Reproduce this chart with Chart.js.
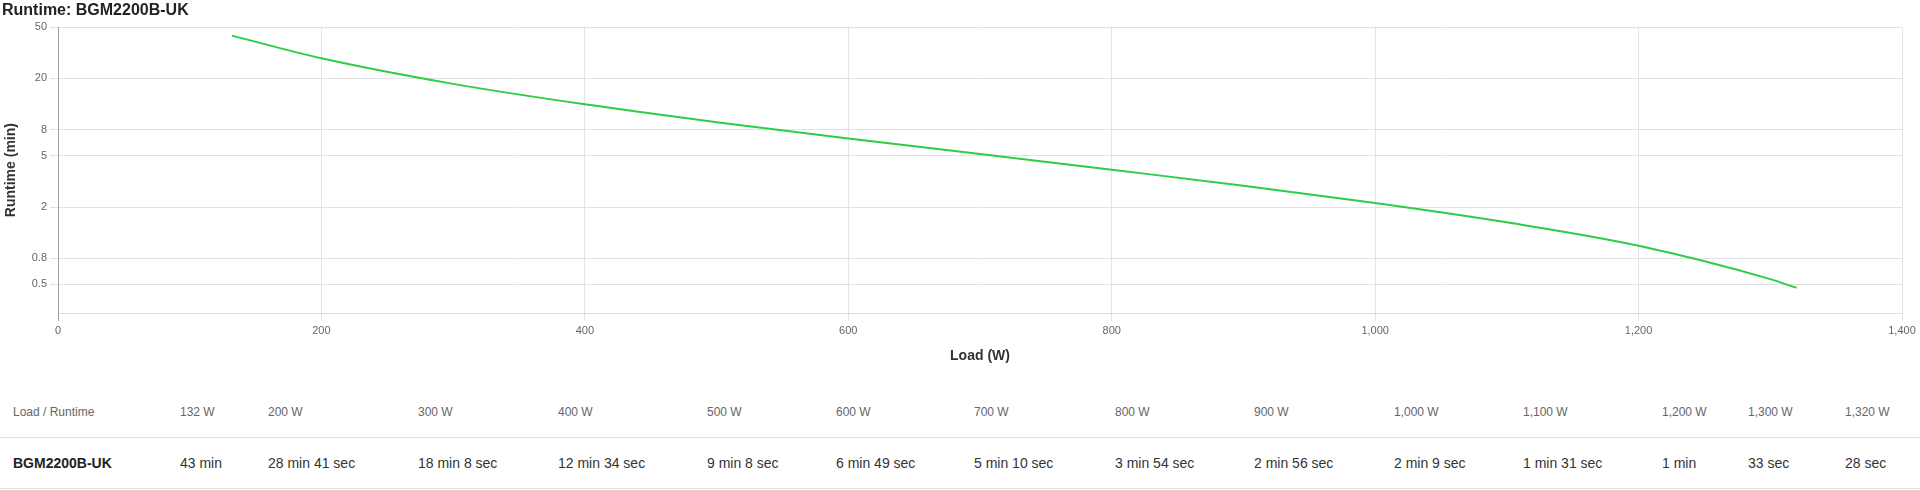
<!DOCTYPE html>
<html>
<head>
<meta charset="utf-8">
<script src="https://cdn.jsdelivr.net/npm/chart.js@4/dist/chart.umd.min.js"></script>
<style>
  html, body { margin: 0; padding: 0; background: #fff; width: 1920px; height: 490px; overflow: hidden; }
  body { position: relative; font-family: "Liberation Sans", Arial, sans-serif; }
  #chart { position: absolute; left: 0; top: 0; }
  #tbl { position: absolute; left: 0; top: 387px; border-collapse: collapse; table-layout: fixed; }
  #tbl td { padding: 0 0 0 13px; height: 50px; border-bottom: 1px solid #e2e2e2; white-space: nowrap; vertical-align: middle; }
  #tbl tr.head td { font-size: 12px; color: #666; }
  #tbl tr.vals td { font-size: 14px; color: #333; }
  #tbl tr.vals td.name { font-weight: bold; color: #222; }
</style>
</head>
<body>
<canvas id="chart" width="1920" height="367"></canvas>
<table id="tbl"><colgroup id="cols"></colgroup><tr class="head" id="headRow"></tr><tr class="vals" id="valRow"></tr></table>
<script>
// ---- data ----
const chartTitle = 'Runtime: BGM2200B-UK';
const seriesName = 'BGM2200B-UK';
const loads = [132, 200, 300, 400, 500, 600, 700, 800, 900, 1000, 1100, 1200, 1300, 1320];
const runtimeMinutes = [43, 28.68, 18.13, 12.57, 9.13, 6.82, 5.17, 3.9, 2.93, 2.15, 1.52, 1, 0.55, 0.47];
const loadLabels = ['132 W', '200 W', '300 W', '400 W', '500 W', '600 W', '700 W', '800 W', '900 W', '1,000 W', '1,100 W', '1,200 W', '1,300 W', '1,320 W'];
const runtimeLabels = ['43 min', '28 min 41 sec', '18 min 8 sec', '12 min 34 sec', '9 min 8 sec', '6 min 49 sec', '5 min 10 sec', '3 min 54 sec', '2 min 56 sec', '2 min 9 sec', '1 min 31 sec', '1 min', '33 sec', '28 sec'];
const yTicks = [0.5, 0.8, 2, 5, 8, 20, 50];
const xTickStep = 200;

// ---- layout (table column widths, px) ----
const colWidths = [167, 88, 150, 140, 149, 129, 138, 141, 139, 140, 129, 139, 86, 97, 88];

const FONT = '"Liberation Sans", Arial, sans-serif';

// table
const cols = document.getElementById('cols');
colWidths.forEach(w => { const c = document.createElement('col'); c.style.width = w + 'px'; cols.appendChild(c); });
document.getElementById('tbl').style.width = colWidths.reduce((a, b) => a + b, 0) + 'px';
const headRow = document.getElementById('headRow');
const valRow = document.getElementById('valRow');
function cell(row, text, cls) { const td = document.createElement('td'); td.textContent = text; if (cls) td.className = cls; row.appendChild(td); }
cell(headRow, 'Load / Runtime');
cell(valRow, seriesName, 'name');
loadLabels.forEach(t => cell(headRow, t));
runtimeLabels.forEach(t => cell(valRow, t));

// chart
new Chart(document.getElementById('chart'), {
  type: 'line',
  data: {
    datasets: [{
      label: seriesName,
      data: loads.map((x, i) => ({ x: x, y: runtimeMinutes[i] })),
      borderColor: '#2fcc45',
      borderWidth: 2,
      pointRadius: 0,
      pointHoverRadius: 0,
      fill: false,
      cubicInterpolationMode: 'monotone'
    }]
  },
  options: {
    responsive: false,
    animation: false,
    devicePixelRatio: 1,
    layout: { padding: { left: 2, right: 18, top: 0, bottom: 0 } },
    plugins: {
      legend: { display: false },
      tooltip: { enabled: false },
      title: {
        display: true, text: chartTitle, align: 'start', color: '#222',
        font: { family: FONT, size: 16, weight: 'bold' },
        padding: { top: 1, bottom: 7 }
      }
    },
    scales: {
      x: {
        type: 'linear', min: 0, max: 1400,
        ticks: {
          stepSize: xTickStep, color: '#666', padding: 3,
          font: { family: FONT, size: 11 },
          callback: v => Number(v).toLocaleString('en-US')
        },
        grid: {
          color: ctx => (ctx.tick && ctx.tick.value === 0) ? '#a0a0a0' : '#e4e4e4',
          tickLength: 8
        },
        border: { color: '#dddddd' },
        title: {
          display: true, text: 'Load (W)', color: '#333',
          font: { family: FONT, size: 14, weight: 'bold' },
          padding: { top: 8, bottom: 2 }
        }
      },
      y: {
        type: 'logarithmic', min: 0.32, max: 50,
        afterBuildTicks: s => { s.ticks = yTicks.map(v => ({ value: v })); },
        afterFit: s => { s.width = 56; },
        ticks: {
          color: '#666', padding: 3, autoSkip: false,
          font: { family: FONT, size: 11 },
          callback: v => String(v)
        },
        grid: { color: '#e2e2e2', tickLength: 8 },
        border: { color: '#a0a0a0' },
        title: {
          display: true, text: 'Runtime (min)', color: '#333',
          font: { family: FONT, size: 14, weight: 'bold' },
          padding: { top: 1, bottom: 0 }
        }
      }
    }
  }
});
</script>
</body>
</html>
